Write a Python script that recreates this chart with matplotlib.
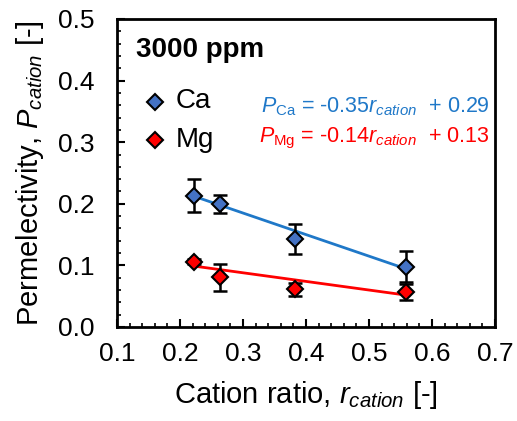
import matplotlib
matplotlib.use("Agg")
import matplotlib.pyplot as plt
import numpy as np
from matplotlib.ticker import MultipleLocator, FormatStrFormatter

plt.rcParams['font.family'] = ['Liberation Sans', 'DejaVu Sans']
plt.rcParams['mathtext.fontset'] = 'custom'
plt.rcParams['mathtext.rm'] = 'Liberation Sans'
plt.rcParams['mathtext.it'] = 'Liberation Sans:italic'
plt.rcParams['mathtext.bf'] = 'Liberation Sans:bold'

r_cation = [0.222, 0.263, 0.383, 0.558]
p_ca = [0.213, 0.200, 0.143, 0.098]
p_ca_err = [0.027, 0.015, 0.025, 0.025]
p_mg = [0.106, 0.081, 0.061, 0.057]
p_mg_err = [0.004, 0.022, 0.010, 0.013]
ca_fit = (-0.35, 0.29)
mg_fit = (-0.14, 0.13)

fig = plt.figure(figsize=(5.17, 4.21), dpi=100)
ax = fig.add_axes([0.2263, 0.2233, 0.7311, 0.7316])

xfit = np.array([min(r_cation), max(r_cation)])
ax.plot(xfit, ca_fit[0] * xfit + ca_fit[1], color='#1F78C8', lw=2, zorder=2)
ax.plot(xfit, mg_fit[0] * xfit + mg_fit[1], color='#FF0000', lw=2, zorder=2)

ax.errorbar(r_cation, p_ca, yerr=p_ca_err, fmt='none', ecolor='black', elinewidth=1.8, capsize=5, capthick=1.8, zorder=3)
ax.errorbar(r_cation, p_mg, yerr=p_mg_err, fmt='none', ecolor='black', elinewidth=1.8, capsize=5, capthick=1.8, zorder=3)
ax.plot(r_cation, p_ca, 'D', ms=8, mfc='#4472C4', mec='black', mew=1.5, ls='none', zorder=4)
ax.plot(r_cation, p_mg, 'D', ms=8, mfc='#FF0000', mec='black', mew=1.5, ls='none', zorder=4)

ax.set_xlim(0.1, 0.7)
ax.set_ylim(0.0, 0.5)
ax.xaxis.set_major_locator(MultipleLocator(0.1))
ax.xaxis.set_minor_locator(MultipleLocator(0.02))
ax.yaxis.set_major_locator(MultipleLocator(0.1))
ax.yaxis.set_minor_locator(MultipleLocator(0.02))
ax.xaxis.set_major_formatter(FormatStrFormatter('%.1f'))
ax.yaxis.set_major_formatter(FormatStrFormatter('%.1f'))
ax.tick_params(which='both', direction='in', top=False, right=False, labelsize=19)
ax.tick_params(which='major', length=6, width=1.5)
ax.tick_params(which='minor', length=3, width=1.2)
ax.tick_params(axis='x', which='major', pad=11)
ax.tick_params(axis='y', which='major', pad=16)
for s in ax.spines.values():
    s.set_linewidth(2)

ax.set_xlabel(r'Cation ratio, $r_{cation}$ [-]', fontsize=21, labelpad=9)
ax.set_ylabel(r'Permelectivity, $P_{cation}$ [-]', fontsize=21, labelpad=9)

ax.text(0.130, 0.438, '3000 ppm', fontsize=20, fontweight='bold', va='baseline', ha='left')

ax.plot([0.160], [0.365], 'D', ms=8, mfc='#4472C4', mec='black', mew=1.5, ls='none')
ax.plot([0.160], [0.304], 'D', ms=8, mfc='#FF0000', mec='black', mew=1.5, ls='none')
ax.text(0.1937, 0.356, 'Ca', fontsize=20, va='baseline', ha='left')
ax.text(0.1937, 0.292, 'Mg', fontsize=20, va='baseline', ha='left')

ax.text(0.692, 0.349, r'$P_{\mathrm{Ca}}$ = -0.35$r_{cation}$  + 0.29', color='#1F78C8', fontsize=15.5, va='baseline', ha='right')
ax.text(0.692, 0.299, r'$P_{\mathrm{Mg}}$ = -0.14$r_{cation}$  + 0.13', color='#FF0000', fontsize=15.5, va='baseline', ha='right')

fig.savefig('out.png', dpi=100)
